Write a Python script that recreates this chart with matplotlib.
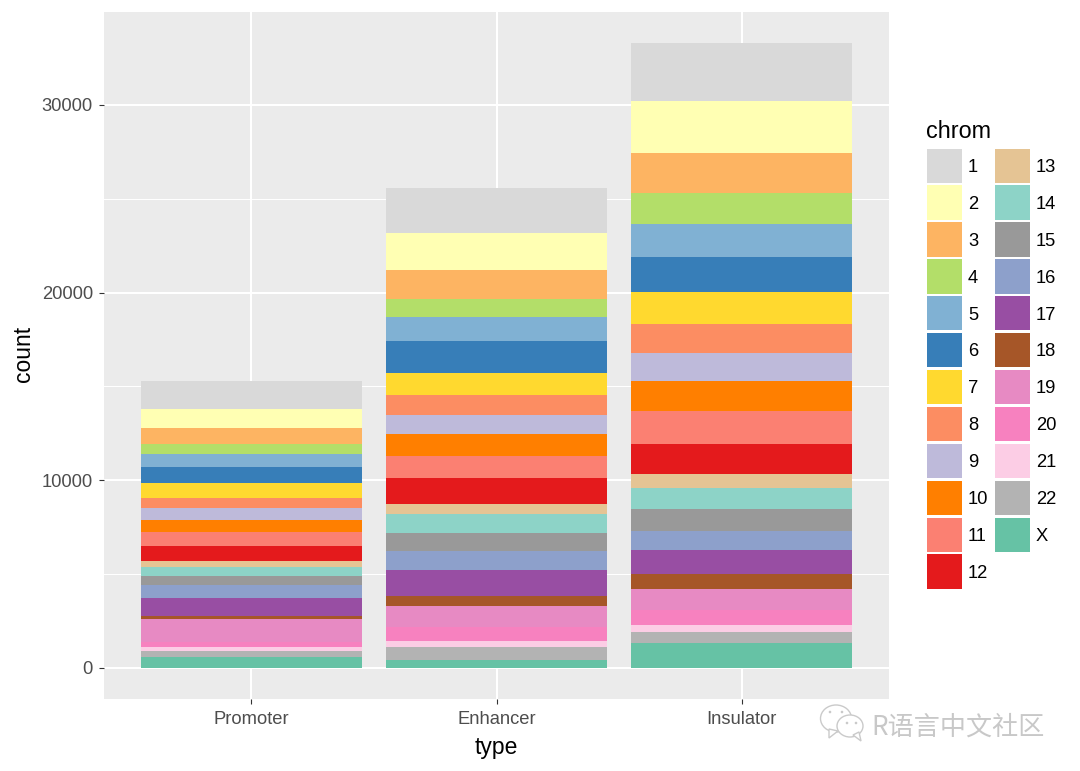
import matplotlib

matplotlib.use("Agg")
import matplotlib.pyplot as plt
from matplotlib.patches import Circle, Ellipse, Polygon, Rectangle

# ==========================================
# Data
# ==========================================
TYPES = ["Promoter", "Enhancer", "Insulator"]
CHROMS = [str(i) for i in range(1, 23)] + ["X"]

PROMOTER = [1490, 1045, 835, 515, 690, 885, 785, 550, 625, 640, 745, 785,
            320, 495, 480, 710, 925, 190, 1195, 300, 180, 335, 570]
ENHANCER = [2400, 1955, 1530, 990, 1280, 1675, 1190, 1080, 980, 1170, 1170, 1400,
            535, 995, 975, 1010, 1385, 535, 1135, 730, 305, 695, 425]
INSULATOR = [3105, 2735, 2150, 1670, 1760, 1830, 1725, 1525, 1490, 1600, 1795, 1580,
             760, 1120, 1170, 1010, 1280, 785, 1135, 815, 355, 600, 1300]

COLORS = ["#D9D9D9", "#FFFFB3", "#FDB462", "#B3DE69", "#80B1D3", "#377EB8",
          "#FFD92F", "#FC8D62", "#BEBADA", "#FF7F00", "#FB8072", "#E41A1C",
          "#E5C494", "#8DD3C7", "#999999", "#8DA0CB", "#984EA3", "#A65628",
          "#E78AC3", "#F781BF", "#FCCDE5", "#B3B3B3", "#66C2A5"]

plt.rcParams["font.family"] = ["Liberation Sans", "DejaVu Sans"]

W, H = 1080, 771
fig = plt.figure(figsize=(W / 100, H / 100), dpi=100, facecolor="white")
ax = fig.add_axes([104 / W, (H - 699) / H, 785 / W, 687 / H], facecolor="#EBEBEB")

# ==================== Stacked bars ====================
# chromosome X sits at the bottom, chromosome 1 on top
for pos, counts in enumerate([PROMOTER, ENHANCER, INSULATOR], start=1):
    bottom = 0
    for i in range(len(CHROMS) - 1, -1, -1):
        ax.bar(pos, counts[i], width=0.9, bottom=bottom, color=COLORS[i], linewidth=0, zorder=3)
        bottom += counts[i]

ax.set_xlim(0.4, 3.6)
ax.set_ylim(-1665, 34950)
ax.set_xticks([1, 2, 3], TYPES)
ax.set_yticks([0, 10000, 20000, 30000])
ax.set_yticks([5000, 15000, 25000], minor=True)

ax.grid(True, which="major", color="white", linewidth=1.5, zorder=1)
ax.grid(True, which="minor", axis="y", color="white", linewidth=0.75, zorder=1)
ax.set_axisbelow(True)
for spine in ax.spines.values():
    spine.set_visible(False)

ax.tick_params(axis="both", which="major", length=3.6, width=0.8, color="#333333",
               labelcolor="#4D4D4D", labelsize=13.2)
ax.tick_params(axis="x", which="major", pad=5.2)
ax.tick_params(axis="y", which="major", pad=4.4)
ax.tick_params(axis="y", which="minor", length=0)
ax.set_xlabel("type", fontsize=16.5, color="black", labelpad=5.7)
ax.set_ylabel("count", fontsize=16.5, color="black", labelpad=4.8, y=0.502)

# ==================== Legend + watermark (overlay in pixels) ====================
over = fig.add_axes([0, 0, 1, 1], facecolor="none")
over.set_xlim(0, W)
over.set_ylim(H, 0)
over.axis("off")

over.text(926, 131, "chrom", fontsize=16.8, color="black", ha="left", va="center")
for i, chrom in enumerate(CHROMS):
    col = 0 if i < 12 else 1
    row = i if i < 12 else i - 12
    x0 = 927 if col == 0 else 995
    y0 = 148.5 + row * 36.9
    over.add_patch(Rectangle((x0, y0), 35, 34.3, facecolor=COLORS[i], edgecolor="none"))
    over.text(x0 + 41, y0 + 19, chrom, fontsize=13.2, color="black", ha="left", va="center")

# WeChat style mark
mark = "#CACACA"
over.add_patch(Ellipse((836, 718.5), 31, 27, facecolor="white", edgecolor=mark, linewidth=1))
over.add_patch(Polygon([(829, 729), (829, 738), (838, 731)], facecolor="white", edgecolor=mark, linewidth=1))
over.add_patch(Ellipse((850, 726), 26, 22, facecolor="white", edgecolor=mark, linewidth=1))
over.add_patch(Polygon([(853, 735), (861, 741), (859, 732)], facecolor="white", edgecolor=mark, linewidth=1))
for cx, cy in [(830, 712), (842, 712), (847, 723), (856, 723)]:
    over.add_patch(Circle((cx, cy), 1.3, facecolor=mark, edgecolor="none"))

over.text(871, 727, "R语言中文社区", fontsize=18.8, color="#C8C8C8", ha="left", va="center",
          family=["Noto Sans CJK SC", "DejaVu Sans"])

fig.savefig("out.png", dpi=100)
plt.close(fig)
